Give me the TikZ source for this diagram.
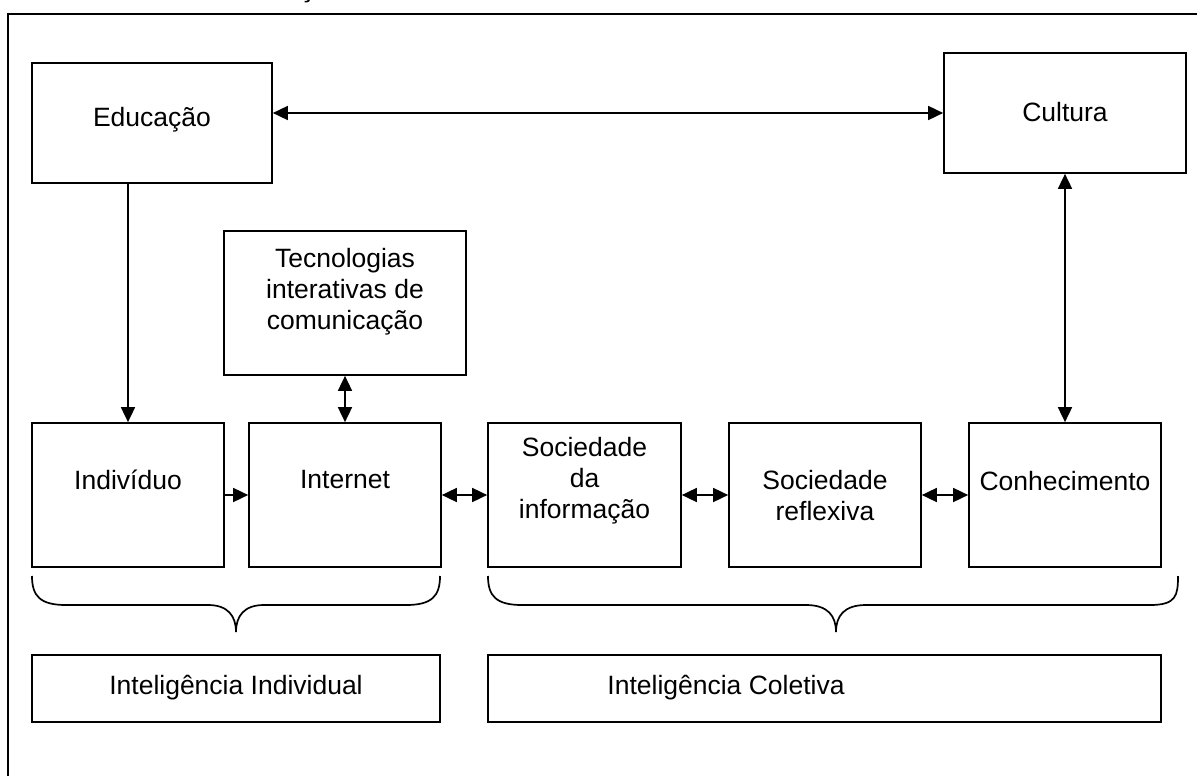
\documentclass[tikz,border=0pt]{standalone}
\usepackage{fontspec}
\setmainfont{Liberation Sans}
\usetikzlibrary{arrows.meta}
\tikzset{
  box/.style={draw, line width=1.7pt, inner sep=0pt, fill=none},
  txt/.style={align=center, inner sep=0pt, font=\fontsize{26.5}{31}\selectfont},
  arr/.style={line width=1.7pt, -{Triangle[length=15pt,width=14pt]}},
  darr/.style={line width=1.7pt, {Triangle[length=15pt,width=14pt]}-{Triangle[length=15pt,width=14pt]}},
  brace/.style={line width=1.7pt}
}
\begin{document}
\begin{tikzpicture}[x=1pt,y=-1pt]
\useasboundingbox (0,0) rectangle (1197,776);
\clip (0,0) rectangle (1197,776);
% title (cut off at the top, as in the reference)
\node[anchor=base west, inner sep=0pt, font=\bfseries\fontsize{26}{30}\selectfont] (title) at (200,-2) {Construção do conhecimento};
% outer frame
\draw[line width=1.7pt] (8,790) -- (8,14) -- (1210,14);
% boxes
\node[box, minimum width=240pt, minimum height=120pt] (edu) at (152,123) {};
\node[txt] (edut) at (152,120) {Educação};
\node[box, minimum width=242pt, minimum height=120pt] (cul) at (1065,113) {};
\node[txt] (cult) at (1065,112) {Cultura};
\node[box, minimum width=242pt, minimum height=144pt] (tec) at (345,303) {};
\node[txt] (tect) at (345,292) {Tecnologias\\interativas de\\comunicação};
\node[box, minimum width=192pt, minimum height=144pt] (ind) at (128,495) {};
\node[txt] (indt) at (128,480) {Indivíduo};
\node[box, minimum width=192pt, minimum height=144pt] (inet) at (345,495) {};
\node[txt] (inett) at (345,480) {Internet};
\node[box, minimum width=193pt, minimum height=144pt] (sdi) at (584.5,495) {};
\node[txt] (sdit) at (584.5,481) {Sociedade\\da\\informação};
\node[box, minimum width=192pt, minimum height=144pt] (sr) at (825,495) {};
\node[txt] (srt) at (825,496) {Sociedade\\reflexiva};
\node[box, minimum width=192pt, minimum height=144pt] (con) at (1065,495) {};
\node[txt] (cont) at (1065,481) {Conhecimento};
\node[box, minimum width=408pt, minimum height=67pt] (ii) at (236,688.5) {};
\node[txt] (iit) at (236,688) {Inteligência Individual};
\node[box, minimum width=673pt, minimum height=67pt] (ic) at (824.5,688.5) {};
\node[txt] (ict) at (726,688) {Inteligência Coletiva};
% connectors
\draw[darr] (edu.east |- cul.west) -- (cul.west);
\draw[arr] (edu.south -| ind.north) -- (ind.north);
\draw[darr] (tec.south) -- (inet.north);
\draw[darr] (cul.south) -- (con.north);
\draw[arr] (ind.east) -- (inet.west);
\draw[darr] (inet.east) -- (sdi.west);
\draw[darr] (sdi.east) -- (sr.west);
\draw[darr] (sr.east) -- (con.west);
% braces
\draw[brace] (32,576) .. controls (32,596) and (40,605) .. (66,605) -- (208,605)
  .. controls (228,605) and (236,616) .. (236,632)
  .. controls (236,616) and (244,605) .. (264,605) -- (406,605)
  .. controls (432,605) and (440,596) .. (440,576);
\draw[brace] (488,576) .. controls (488,596) and (496,605) .. (522,605) -- (806,605)
  .. controls (828,605) and (836,616) .. (836,632)
  .. controls (836,616) and (844,605) .. (866,605) -- (1150,605)
  .. controls (1176,605) and (1178,596) .. (1178,576);
\end{tikzpicture}
\end{document}
